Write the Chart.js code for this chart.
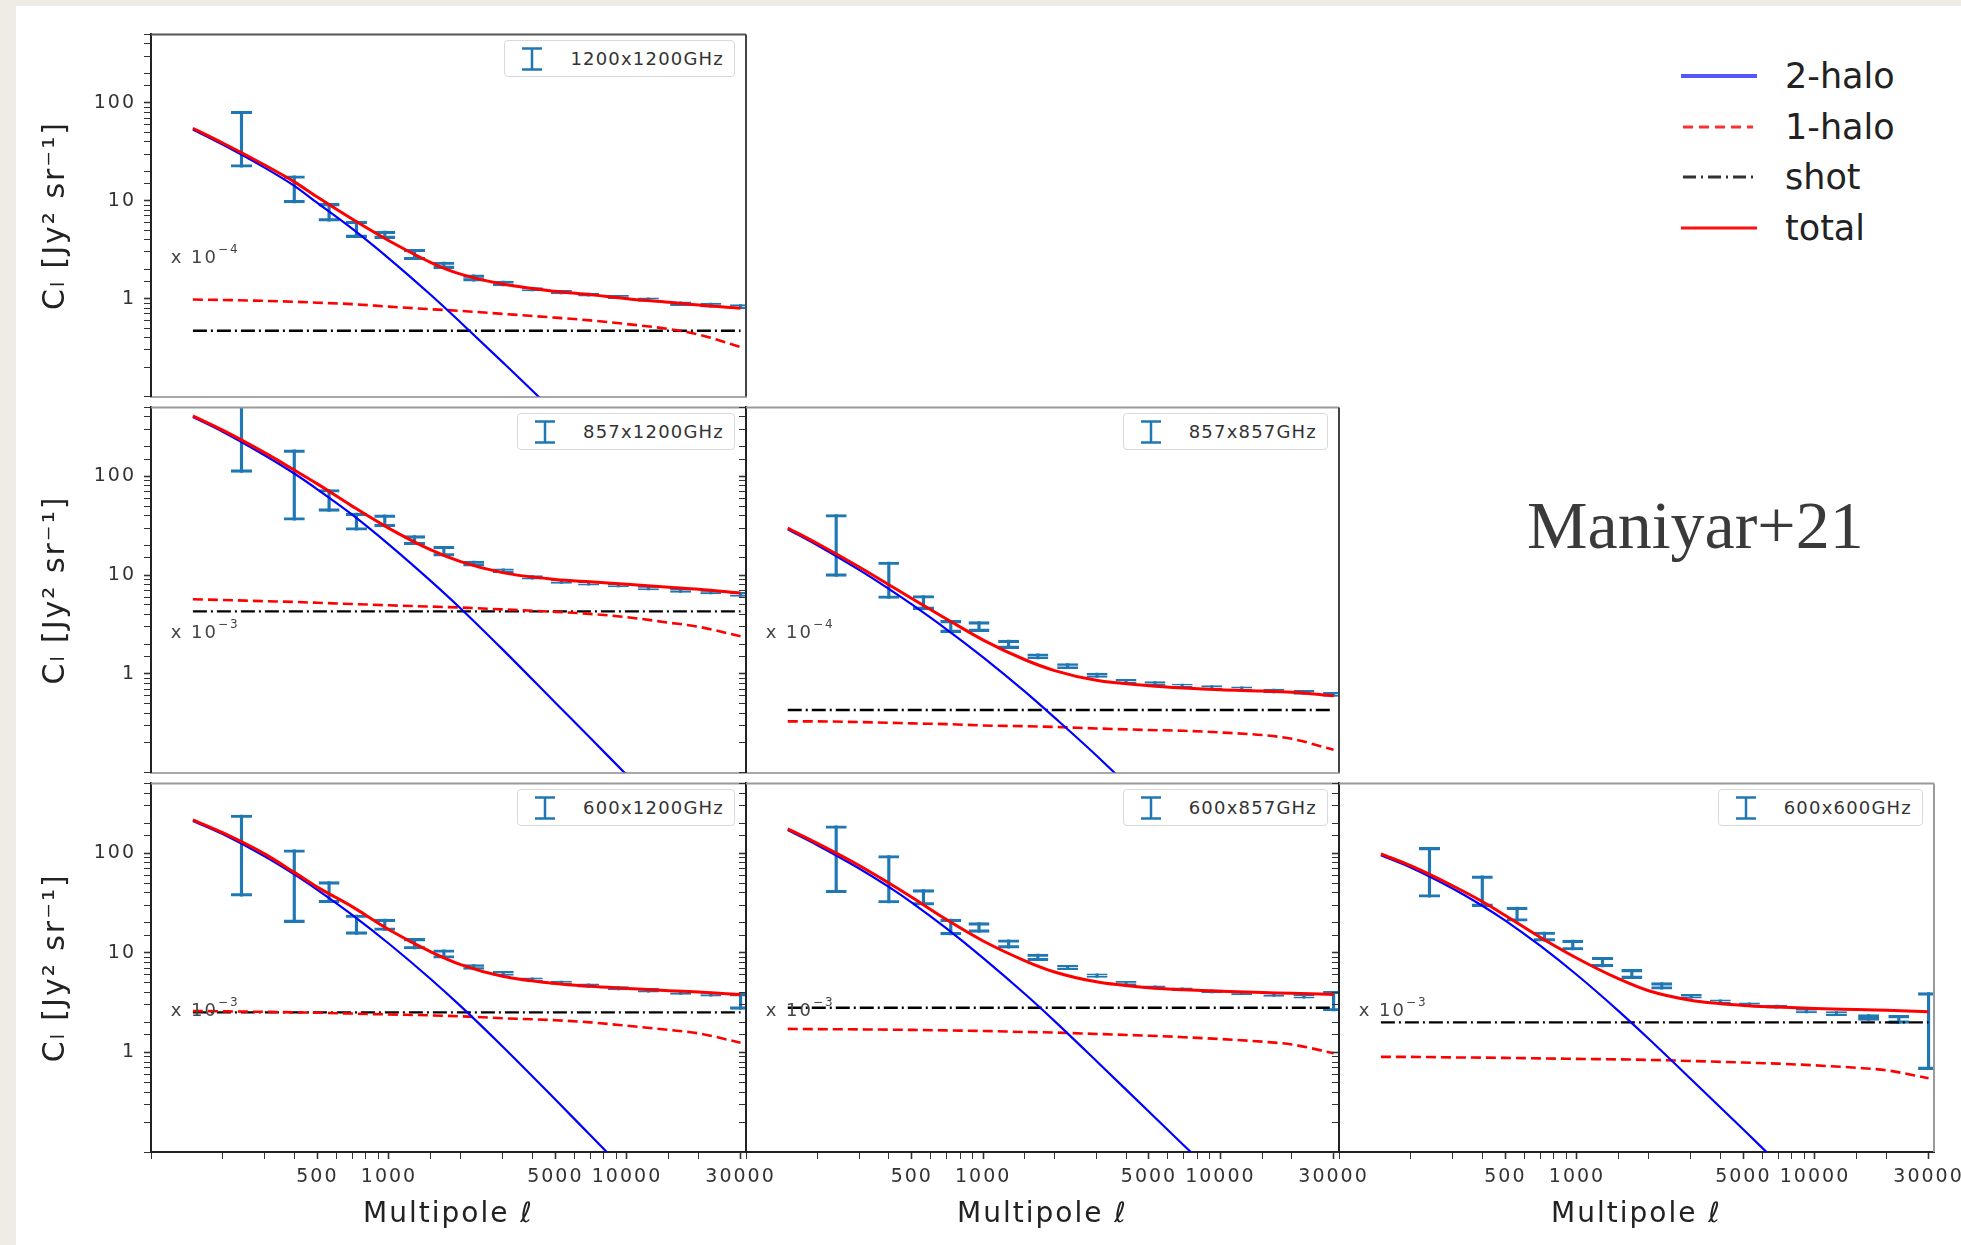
<!DOCTYPE html>
<html>
<head>
<meta charset="utf-8">
<title>CIB auto/cross spectra - halo model</title>
<script src="https://cdn.jsdelivr.net/npm/chart.js@4.4.1/dist/chart.umd.min.js"></script>
<style>
  html, body { margin: 0; padding: 0; }
  body { width: 1961px; height: 1245px; position: relative; overflow: hidden;
         background: #efece5; font-family: "DejaVu Sans", sans-serif; }
  #sheet { position: absolute; left: 16px; top: 6px; width: 1945px; height: 1239px; background: #fff; }
  .panel { position: absolute; }
  .key { position: absolute; height: 37px; box-sizing: border-box; background: #fff;
         border: 1px solid #d9d9d9; border-radius: 4px; display: flex; align-items: center;
         padding: 0 10px 0 16px; font-size: 18px; letter-spacing: 1.2px; color: #333; white-space: nowrap; }
  .key svg { margin-right: 27px; flex: none; }
  #keys { position: absolute; left: 1679px; top: 51px; }
  #keys div { height: 50.5px; display: flex; align-items: center; font-size: 35px; color: #222; }
  #keys svg { width: 80px; height: 10px; margin-right: 26px; flex: none; }
  #cite { position: absolute; left: 1527px; top: 485px; font-family: "Liberation Serif", serif;
          font-size: 68px; line-height: 80px; color: #3a3a3a; }
</style>
</head>
<body>
<div id="sheet"></div>
<div id="stage"></div>

<div id="keys">
  <div><svg viewBox="0 0 80 10"><line x1="2" y1="5" x2="78" y2="5" stroke="#5656ff" stroke-width="4"/></svg>2-halo</div>
  <div><svg viewBox="0 0 80 10"><line x1="4" y1="5" x2="74" y2="5" stroke="#ff3030" stroke-width="3" stroke-dasharray="10 6"/></svg>1-halo</div>
  <div><svg viewBox="0 0 80 10"><line x1="4" y1="5" x2="74" y2="5" stroke="#333" stroke-width="3" stroke-dasharray="13 5 2 5"/></svg>shot</div>
  <div><svg viewBox="0 0 80 10"><line x1="2" y1="5" x2="78" y2="5" stroke="#ff1010" stroke-width="3"/></svg>total</div>
</div>
<div id="cite">Maniyar+21</div>

<script>
Chart.defaults.font.family = '"DejaVu Sans", sans-serif';
Chart.defaults.color = '#333';

// multipoles of the model curves and of the measured band powers
var ell     = [150, 200, 300, 400, 500, 700, 1000, 1500, 2000, 3000, 5000, 7000, 10000, 15000, 20000, 30000];
var ellBins = [240, 400, 560, 730, 960, 1280, 1700, 2270, 3020, 4000, 5300, 6900, 9200, 12300, 16800, 22500, 30000];

var xTickLabels = [500, 1000, 5000, 10000, 30000];
var yTickLabels = [1, 10, 100];

var pairs    = ['1200x1200GHz', '857x1200GHz', '857x857GHz', '600x1200GHz', '600x857GHz', '600x600GHz'];
var scaleExp = [4, 3, 4, 3, 3, 3];
var shot     = [0.47, 4.3, 0.43, 2.52, 2.8, 2.0];

// 1200 x 1200
var total_1200x1200   = [55, 38.9, 23.2, 15.6, 10.9, 6.5, 3.9, 2.34, 1.78, 1.41, 1.19, 1.1, 1.0, 0.92, 0.86, 0.80];
var twoHalo_1200x1200 = [53.5, 37.5, 21.8, 14.2, 9.5, 5.19, 2.57, 1.09, 0.572, 0.225, 0.068, 0.030, null, null, null, null];
var oneHalo_1200x1200 = [0.98, 0.97, 0.95, 0.93, 0.91, 0.88, 0.83, 0.78, 0.75, 0.70, 0.64, 0.60, 0.55, 0.49, 0.43, 0.32];
var cl_1200x1200      = [52, 13.75, 7.8, 5.2, 4.5, 2.85, 2.2, 1.63, 1.43, 1.25, 1.17, 1.1, 1.04, 0.98, 0.89, 0.86, 0.83];
var err_1200x1200     = [30, 4.25, 1.6, 1.0, 0.4, 0.35, 0.17, 0.12, 0.08, 0.05, 0.05, 0.04, 0.04, 0.04, 0.04, 0.04, 0.04];

// 857 x 1200
var total_857x1200   = [410, 294, 174, 116, 84, 50, 29.8, 18.0, 13.7, 10.6, 9.05, 8.55, 8.1, 7.55, 7.2, 6.6];
var twoHalo_857x1200 = [400, 284, 164, 107, 74, 41, 20.4, 8.7, 4.6, 1.77, 0.51, 0.225, 0.094, 0.035, null, null];
var oneHalo_857x1200 = [5.7, 5.6, 5.45, 5.35, 5.25, 5.1, 4.95, 4.8, 4.7, 4.5, 4.25, 4.05, 3.75, 3.3, 3.0, 2.4];
var cl_857x1200      = [320, 111, 59, 35.5, 35.8, 22.7, 17.6, 13.1, 11.1, 9.5, 8.6, 8.2, 7.9, 7.4, 7.0, 6.75, 6.4];
var err_857x1200     = [210, 75, 14.7, 7, 5, 2.4, 2, 0.8, 0.5, 0.4, 0.35, 0.3, 0.3, 0.3, 0.3, 0.3, 0.3];

// 857 x 857
var total_857x857   = [30, 20.9, 12.1, 8.0, 5.8, 3.6, 2.2, 1.39, 1.08, 0.86, 0.76, 0.72, 0.69, 0.67, 0.65, 0.60];
var twoHalo_857x857 = [29.2, 20.1, 11.3, 7.26, 5.05, 2.83, 1.47, 0.66, 0.36, 0.149, 0.045, 0.019, null, null, null, null];
var oneHalo_857x857 = [0.33, 0.33, 0.325, 0.32, 0.315, 0.31, 0.30, 0.295, 0.29, 0.28, 0.27, 0.265, 0.255, 0.24, 0.22, 0.17];
var cl_857x857      = [25.4, 9.7, 5.35, 3.05, 3.03, 2.0, 1.51, 1.2, 0.97, 0.84, 0.80, 0.76, 0.73, 0.71, 0.67, 0.65, 0.62];
var err_857x857     = [15.7, 3.9, 0.87, 0.43, 0.35, 0.2, 0.09, 0.07, 0.05, 0.04, 0.035, 0.03, 0.03, 0.03, 0.03, 0.03, 0.03];

// 600 x 1200
var total_600x1200   = [215, 160, 98, 64, 45.5, 29, 17, 10.2, 7.6, 5.8, 4.9, 4.6, 4.38, 4.15, 4.03, 3.8];
var twoHalo_600x1200 = [210, 155, 93, 61.2, 42.8, 24.0, 12.3, 5.42, 2.91, 1.145, 0.336, 0.148, 0.062, null, null, null];
var oneHalo_600x1200 = [2.6, 2.58, 2.55, 2.52, 2.5, 2.45, 2.4, 2.35, 2.3, 2.2, 2.1, 2.0, 1.85, 1.68, 1.55, 1.25];
var cl_600x1200      = [139, 64, 41.7, 19.6, 19.2, 12.4, 9.75, 7.2, 6.2, 5.4, 5.0, 4.7, 4.4, 4.2, 4.0, 3.85, 3.3];
var err_600x1200     = [102, 44, 10, 4.3, 2.5, 1.5, 0.95, 0.4, 0.3, 0.2, 0.2, 0.18, 0.18, 0.18, 0.18, 0.18, 0.6];

// 600 x 857
var total_600x857   = [175, 125, 75, 50, 36, 21.5, 13.1, 8.3, 6.4, 5.1, 4.45, 4.25, 4.1, 3.98, 3.92, 3.8];
var twoHalo_600x857 = [170, 120, 70, 45.7, 31.8, 17.5, 8.83, 3.85, 2.06, 0.82, 0.253, 0.117, 0.052, null, null, null];
var oneHalo_600x857 = [1.72, 1.71, 1.70, 1.69, 1.68, 1.66, 1.64, 1.60, 1.58, 1.53, 1.47, 1.42, 1.36, 1.28, 1.2, 0.98];
var cl_600x857      = [114, 63, 36.5, 18.4, 18, 12.3, 9, 7.1, 5.9, 4.95, 4.5, 4.3, 4.1, 3.95, 3.8, 3.65, 3.35];
var err_600x857     = [74, 31.5, 6.5, 3.3, 2, 1.2, 0.7, 0.35, 0.25, 0.2, 0.15, 0.15, 0.15, 0.15, 0.15, 0.15, 0.75];

// 600 x 600
var total_600x600   = [98, 74.6, 47, 32.6, 23.6, 14.3, 8.8, 5.45, 4.15, 3.34, 2.96, 2.85, 2.76, 2.69, 2.64, 2.55];
var twoHalo_600x600 = [95, 71.7, 44.1, 29.6, 21.0, 11.75, 5.97, 2.58, 1.37, 0.544, 0.168, 0.077, 0.034, null, null, null];
var oneHalo_600x600 = [0.9, 0.9, 0.89, 0.885, 0.88, 0.87, 0.86, 0.85, 0.84, 0.82, 0.79, 0.77, 0.74, 0.7, 0.66, 0.55];
var cl_600x600      = [75, 44, 24.7, 14.6, 12, 8.1, 6.15, 4.65, 3.66, 3.23, 3.04, 2.88, 2.61, 2.45, 2.24, 2.15, 2.32];
var err_600x600     = [39, 15, 4, 1.55, 1.35, 0.9, 0.65, 0.35, 0.17, 0.13, 0.1, 0.1, 0.12, 0.12, 0.15, 0.2, 1.65];

var panels = [
    { total: total_1200x1200, twoHalo: twoHalo_1200x1200, oneHalo: oneHalo_1200x1200, cl: cl_1200x1200, err: err_1200x1200 },
    { total: total_857x1200,  twoHalo: twoHalo_857x1200,  oneHalo: oneHalo_857x1200,  cl: cl_857x1200,  err: err_857x1200 },
    { total: total_857x857,   twoHalo: twoHalo_857x857,   oneHalo: oneHalo_857x857,   cl: cl_857x857,   err: err_857x857 },
    { total: total_600x1200,  twoHalo: twoHalo_600x1200,  oneHalo: oneHalo_600x1200,  cl: cl_600x1200,  err: err_600x1200 },
    { total: total_600x857,   twoHalo: twoHalo_600x857,   oneHalo: oneHalo_600x857,   cl: cl_600x857,   err: err_600x857 },
    { total: total_600x600,   twoHalo: twoHalo_600x600,   oneHalo: oneHalo_600x600,   cl: cl_600x600,   err: err_600x600 }
];

// triangle layout: [row, col] of each panel, and the pixel edges of the grid
var cells  = [[0, 0], [1, 0], [1, 1], [2, 0], [2, 1], [2, 2]];
var colX   = [151, 746, 1339, 1934];
var rowY   = [29, 402, 778, 1152];
var notePos = [121, 2.6];     // where the "x 10^-n" note sits, in data units

var BLUE = '#1f77b4';

function xy(xs, ys) {
    return xs.map(function (x, i) { return { x: x, y: ys[i] }; });
}
function bands(xs, vals, errs) {
    return xs.map(function (x, i) { return { x: x, y: [vals[i] - errs[i], vals[i] + errs[i]] }; });
}
function near(v, list) {
    return list.some(function (t) { return Math.abs(v - t) < t * 1e-6; });
}

// the original figure is a bit stretched sideways, so its text runs wide
var wideText = {
    id: 'wideText',
    beforeLayout: function (chart) { chart.ctx.letterSpacing = '2px'; },
    beforeDraw: function (chart) { chart.ctx.letterSpacing = '2px'; }
};

// top and right spines (chart.js only draws the axis side)
var spines = {
    id: 'spines',
    afterDraw: function (chart, args, o) {
        var a = chart.chartArea, ctx = chart.ctx;
        ctx.save();
        ctx.lineWidth = 2;
        ctx.strokeStyle = o.top;
        ctx.beginPath(); ctx.moveTo(a.left, a.top); ctx.lineTo(a.right, a.top); ctx.stroke();
        ctx.strokeStyle = o.right;
        ctx.beginPath(); ctx.moveTo(a.right, a.top); ctx.lineTo(a.right, a.bottom); ctx.stroke();
        ctx.restore();
    }
};

// "x 10^-n" scaling note inside each panel
var powerNote = {
    id: 'powerNote',
    afterDatasetsDraw: function (chart, args, o) {
        var ctx = chart.ctx;
        var x = chart.scales.x.getPixelForValue(notePos[0]);
        var y = chart.scales.y.getPixelForValue(notePos[1]);
        ctx.save();
        ctx.fillStyle = '#444';
        ctx.textBaseline = 'middle';
        ctx.font = '18px "DejaVu Sans"';
        ctx.fillText('x 10', x, y);
        var w = ctx.measureText('x 10').width;
        ctx.font = '12px "DejaVu Sans"';
        ctx.fillText('\u2212' + o.exp, x + w, y - 8);
        ctx.restore();
    }
};

var stage = document.getElementById('stage');

panels.forEach(function (p, k) {
    var row = cells[k][0], col = cells[k][1];
    var L = colX[col], R = colX[col + 1], T = rowY[row], B = rowY[row + 1];
    var bottomRow = row === 2, firstCol = col === 0;
    var padL = firstCol ? 120 : 30, padR = 45, padT = 14, padB = bottomRow ? 90 : 14;

    var box = document.createElement('div');
    box.className = 'panel';
    box.style.left = (L - padL) + 'px';
    box.style.top = (T - padT) + 'px';
    box.style.width = (R - L + padL + padR) + 'px';
    box.style.height = (B - T + padT + padB) + 'px';
    var cv = document.createElement('canvas');
    box.appendChild(cv);
    stage.appendChild(box);

    new Chart(cv, {
        type: 'line',
        data: {
            datasets: [
                { label: 'total', data: xy(ell, p.total), borderColor: '#ff0000', borderWidth: 3,
                  pointRadius: 0, cubicInterpolationMode: 'monotone', order: 1 },
                { label: '2-halo', data: xy(ell, p.twoHalo), borderColor: '#0000ff', borderWidth: 2.2,
                  pointRadius: 0, cubicInterpolationMode: 'monotone', order: 2 },
                { label: '1-halo', data: xy(ell, p.oneHalo), borderColor: '#ff0000', borderWidth: 2.6,
                  borderDash: [10, 5], pointRadius: 0, cubicInterpolationMode: 'monotone', order: 3 },
                { label: 'shot', data: [{ x: ell[0], y: shot[k] }, { x: ell[ell.length - 1], y: shot[k] }],
                  borderColor: '#000000', borderWidth: 2.4, borderDash: [14, 4, 2, 4], pointRadius: 0, order: 4 },
                { type: 'bar', label: pairs[k], data: bands(ellBins, p.cl, p.err), backgroundColor: BLUE,
                  barThickness: 2.5, grouped: false, order: 5 },
                { type: 'bar', label: 'caps', data: bands(ellBins, p.cl, p.err), backgroundColor: 'rgba(0,0,0,0)',
                  borderColor: BLUE, borderWidth: { top: 2.5, bottom: 2.5, left: 0, right: 0 },
                  borderSkipped: false, barThickness: 21, grouped: false, order: 5 }
            ]
        },
        options: {
            responsive: true,
            maintainAspectRatio: false,
            animation: false,
            events: [],
            layout: { padding: { left: 0, right: padR, top: padT, bottom: 0 } },
            plugins: {
                legend: { display: false },
                tooltip: { enabled: false },
                spines: { top: row === 0 ? '#555' : '#9a9a9a', right: col === 2 ? '#9a9a9a' : '#444' },
                powerNote: { exp: scaleExp[k] }
            },
            scales: {
                x: {
                    type: 'logarithmic', min: 100, max: 31623, offset: false,
                    afterBuildTicks: function (s) {
                        s.ticks = s.ticks.filter(function (t) { return t.value <= 30001; });
                    },
                    afterFit: function (s) { s.height = padB; },
                    grid: { drawOnChartArea: false, drawTicks: bottomRow, tickLength: 7, offset: false,
                            tickColor: '#333',
                            tickWidth: function (c) { return c.tick && near(c.tick.value, xTickLabels) ? 1.6 : 1; } },
                    border: { display: true, color: bottomRow ? '#222' : '#a8a8a8', width: 2 },
                    ticks: { display: bottomRow, autoSkip: false, maxRotation: 0, padding: 7, color: '#333',
                             font: { size: 19 },
                             callback: function (v) { return near(v, xTickLabels) ? String(v) : ''; } },
                    title: { display: bottomRow, text: 'Multipole \u2113', color: '#222',
                             font: { size: 28 }, padding: { top: 0, bottom: 10 } }
                },
                y: {
                    type: 'logarithmic', min: 0.1, max: 500, beginAtZero: false,
                    afterFit: function (s) { s.width = padL; },
                    grid: { drawOnChartArea: false, drawTicks: true, tickLength: 7, tickColor: '#333',
                            tickWidth: function (c) { return c.tick && near(c.tick.value, yTickLabels) ? 1.6 : 1; } },
                    border: { display: true, color: '#222', width: 2 },
                    ticks: { autoSkip: false, padding: 8, color: '#333', font: { size: 19 },
                             callback: function (v) { return firstCol && near(v, yTickLabels) ? String(v) : ''; } },
                    title: { display: firstCol, text: 'C\u2097 [Jy\u00b2 sr\u207b\u00b9]', color: '#222',
                             font: { size: 30 }, padding: { top: 7, bottom: 0 } }
                }
            }
        },
        plugins: [wideText, spines, powerNote]
    });

    // per-panel key with the error-bar glyph
    var key = document.createElement('div');
    key.className = 'key';
    key.style.right = (1961 - R + 11) + 'px';
    key.style.top = (T + 11) + 'px';
    key.innerHTML = '<svg width="22" height="24" viewBox="0 0 22 24">' +
        '<line x1="11" y1="1.5" x2="11" y2="22.5" stroke="' + BLUE + '" stroke-width="2.5"/>' +
        '<line x1="1" y1="1.5" x2="21" y2="1.5" stroke="' + BLUE + '" stroke-width="2.5"/>' +
        '<line x1="1" y1="22.5" x2="21" y2="22.5" stroke="' + BLUE + '" stroke-width="2.5"/></svg>' +
        '<span>' + pairs[k] + '</span>';
    document.body.appendChild(key);
});
</script>
</body>
</html>
